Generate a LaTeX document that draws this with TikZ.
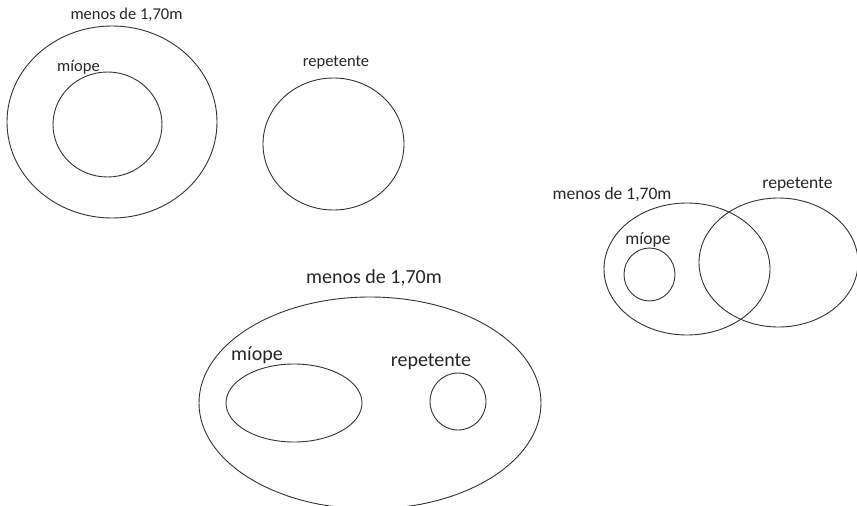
\documentclass[tikz,border=0pt]{standalone}
\usepackage{fontspec}
\setmainfont{Carlito}
\begin{document}
\begin{tikzpicture}[x=1pt,y=-1pt,
  setline/.style={draw=black!80,line width=0.9pt},
  lblS/.style={inner sep=0pt,font=\fontsize{16.5}{18}\selectfont,text=black!85},
  lblM/.style={inner sep=0pt,font=\fontsize{17.5}{19}\selectfont,text=black!85},
  lblL/.style={inner sep=0pt,font=\fontsize{20}{22}\selectfont,text=black!85}]
\useasboundingbox (0,0) rectangle (857,506);
\clip (0,0) rectangle (857,506);
% top-left
\draw[setline] (112,122) ellipse [x radius=105, y radius=96];
\draw[setline] (107.5,124.5) ellipse [x radius=54.5, y radius=52.5];
\node[lblS] (tlmenos) at (126.5,15) {menos de 1,70m};
\node[lblS] (tlmiope) at (78.5,67) {míope};
% top-middle
\draw[setline] (333.5,144) ellipse [x radius=70.5, y radius=66];
\node[lblS] (tmrep) at (336,63) {repetente};
% right
\draw[setline] (687,269) ellipse [x radius=83, y radius=66];
\draw[setline] (778.5,262.5) ellipse [x radius=79.5, y radius=64.5];
\draw[setline] (649.5,274.5) ellipse [x radius=25.5, y radius=26.5];
\node[lblM] (rmenos) at (612,195) {menos de 1,70m};
\node[lblM] (rrep) at (797.5,184.5) {repetente};
\node[lblM] (rmiope) at (648,240) {míope};
% bottom
\draw[setline] (370,403) ellipse [x radius=171, y radius=106];
\draw[setline] (294,403) ellipse [x radius=68, y radius=39];
\draw[setline] (458,401.5) ellipse [x radius=28, y radius=28.5];
\node[lblL] (bmenos) at (374,278) {menos de 1,70m};
\node[lblL] (bmiope) at (257,355) {míope};
\node[lblL] (brep) at (431,362) {repetente};
\end{tikzpicture}
\end{document}
